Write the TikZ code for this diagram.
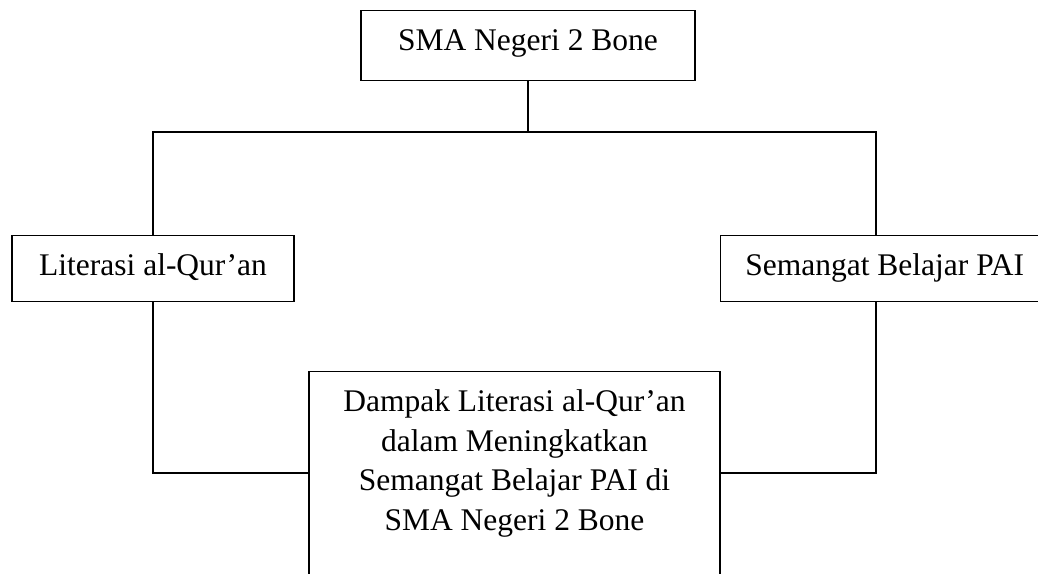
\documentclass[tikz,border=0pt]{standalone}
\usepackage{fontspec}
\setmainfont{Liberation Serif}

\begin{document}
\begin{tikzpicture}[x=0.381pt,y=-0.381pt,
  kotak/.style={draw, line width=0.5pt, font=\fontsize{12}{15.2}\selectfont, inner sep=0pt},
  garis/.style={line width=0.5pt}]

  %–– Batas gambar ––
  \clip (0,0) rectangle (1038,573);

  %–– Kotak atas ––
  \node[kotak, minimum width=127.3pt, text height=15.2pt, text depth=11.4pt, anchor=north]
    (sekolah) at (528,10) {SMA Negeri 2 Bone};

  %–– Kotak kiri dan kanan ––
  \node[kotak, minimum width=107.4pt, text height=15.2pt, text depth=9.9pt, anchor=north]
    (literasi) at (153,235) {Literasi al-Qur’an};

  \node[kotak, minimum width=125pt, text height=15.2pt, text depth=9.9pt, anchor=north west]
    (semangat) at (720,235) {Semangat Belajar PAI};

  %–– Kotak bawah ––
  \node[kotak, minimum width=156.6pt, inner ysep=6.7pt, align=center, anchor=north]
    (dampak) at (514.5,371)
    {Dampak Literasi al-Qur’an\\ dalam Meningkatkan\\ Semangat Belajar PAI di\\ SMA Negeri 2 Bone\\ \mbox{}};

  %–– Titik cabang ––
  \coordinate (cabangKiri) at (153,132);
  \coordinate (cabangKanan) at (876,132);
  \coordinate (masukKiri) at (309,473);
  \coordinate (masukKanan) at (720,473);

  %–– Garis penghubung ––
  \draw[garis] (sekolah.south) |- (cabangKiri) -- (literasi.north);
  \draw[garis] (sekolah.south) |- (cabangKanan) -- (cabangKanan |- semangat.north);
  \draw[garis] (literasi.south) |- (masukKiri);
  \draw[garis] (cabangKanan |- semangat.south) |- (masukKanan);

\end{tikzpicture}
\end{document}
